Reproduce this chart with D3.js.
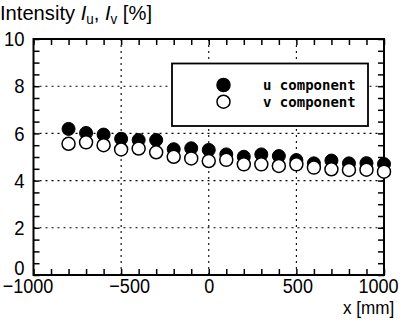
<!DOCTYPE html>
<html>
<head>
<meta charset="utf-8">
<script src="https://cdn.jsdelivr.net/npm/d3@7"></script>
<style>
  body { margin: 0; background: #fff; }
  svg { display: block; }
  .narrow { font-family: "Liberation Sans", Arial, sans-serif; }
</style>
</head>
<body>
<svg id="chart" width="402" height="327"></svg>
<script>
// Streamwise position of each probe [mm]
const positions = [-800, -700, -600, -500, -400, -300, -200, -100, 0, 100, 200, 300, 400, 500, 600, 700, 800, 900, 1000];
// Turbulence intensity of the u component [%]
const uIntensity = [6.19, 6.02, 5.95, 5.77, 5.72, 5.72, 5.33, 5.37, 5.30, 5.11, 5.01, 5.11, 5.04, 4.87, 4.73, 4.85, 4.73, 4.74, 4.70];
// Turbulence intensity of the v component [%]
const vIntensity = [5.56, 5.62, 5.50, 5.32, 5.36, 5.20, 5.01, 4.94, 4.83, 4.88, 4.69, 4.69, 4.62, 4.69, 4.55, 4.48, 4.45, 4.46, 4.38];
// Axis tick labels
const xTickLabels = [-1000, -500, 0, 500, 1000];
const yTickLabels = [0, 2, 4, 6, 8, 10];
const seriesNames = ["u component", "v component"];

const svg = d3.select("#chart");
const plotL = 33.5, plotR = 384, plotT = 39, plotB = 275;

const x = d3.scaleLinear().domain([-1000, 1000]).range([plotL, plotR]);
const y = d3.scaleLinear().domain([0, 10]).range([plotB, plotT]);

// dotted grid at the interior labelled ticks
const grid = svg.append("g").attr("stroke", "#000").attr("stroke-width", 1.1).attr("stroke-dasharray", "2,4");
grid.selectAll("line.gx").data(xTickLabels.filter(v => v > -1000 && v < 1000)).join("line")
  .attr("x1", d => x(d)).attr("x2", d => x(d)).attr("y1", plotT).attr("y2", plotB);
grid.selectAll("line.gy").data(yTickLabels.filter(v => v > 0 && v < 10)).join("line")
  .attr("x1", plotL).attr("x2", plotR).attr("y1", d => y(d)).attr("y2", d => y(d));

const fmt = d => d < 0 ? "\u2212" + Math.abs(d) : String(d);
const xMinor = d3.range(-1000, 1001, 100);
const yMinor = d3.range(0, 10.01, 0.5);

function styleAxis(g) {
  g.select(".domain").remove();
  g.selectAll(".tick line").attr("stroke", "#000").attr("stroke-width", 1.5);
  g.selectAll(".tick text").attr("fill", "#000");
}

// bottom axis with condensed labels
const xLabelShift = { "-1000": -6, "-500": 8, "0": 0, "500": 1, "1000": -6 };
svg.append("g").attr("transform", `translate(0,${plotB})`)
  .call(d3.axisBottom(x).tickValues(xMinor).tickSize(-6).tickPadding(3)
    .tickFormat(d => xTickLabels.includes(d) ? fmt(d) : ""))
  .call(styleAxis)
  .call(g => g.selectAll(".tick text").attr("class", "narrow").attr("font-size", 21)
    .attr("transform", d => `translate(${xLabelShift[d] || 0},0) scale(0.86,1)`));

// top axis, ticks only
svg.append("g").attr("transform", `translate(0,${plotT})`)
  .call(d3.axisTop(x).tickValues(xMinor).tickSize(-6).tickFormat(""))
  .call(styleAxis);

// left axis with condensed labels; the 0 label sits a little higher to clear the x labels
svg.append("g").attr("transform", `translate(${plotL},0)`)
  .call(d3.axisLeft(y).tickValues(yMinor).tickSize(-6).tickPadding(0)
    .tickFormat(d => yTickLabels.includes(d) ? String(d) : ""))
  .call(styleAxis)
  .call(g => g.selectAll(".tick text").attr("class", "narrow").attr("font-size", 21)
    .attr("x", 0)
    .attr("transform", d => `translate(-9,${d === 0 ? -7 : 0}) scale(0.88,1)`));

// right axis, ticks only
svg.append("g").attr("transform", `translate(${plotR},0)`)
  .call(d3.axisRight(y).tickValues(yMinor).tickSize(-6).tickFormat(""))
  .call(styleAxis);

// frame
svg.append("rect").attr("x", plotL).attr("y", plotT).attr("width", plotR - plotL).attr("height", plotB - plotT)
  .attr("fill", "none").attr("stroke", "#000").attr("stroke-width", 2);

// data markers: filled u first, open v drawn over it
const r = 6.5;
svg.append("g").selectAll("circle").data(positions).join("circle")
  .attr("cx", (d) => x(d)).attr("cy", (d, i) => y(uIntensity[i])).attr("r", r)
  .attr("fill", "#000").attr("stroke", "#000").attr("stroke-width", 1);
svg.append("g").selectAll("circle").data(positions).join("circle")
  .attr("cx", (d) => x(d)).attr("cy", (d, i) => y(vIntensity[i])).attr("r", r)
  .attr("fill", "#fff").attr("stroke", "#000").attr("stroke-width", 1.5);

// legend
const lg = svg.append("g");
lg.append("rect").attr("x", 172).attr("y", 63.5).attr("width", 196).attr("height", 62.5)
  .attr("fill", "#fff").attr("stroke", "#000").attr("stroke-width", 1.8);
const legendRows = [
  { name: seriesNames[0], fill: "#000" },
  { name: seriesNames[1], fill: "#fff" }
];
legendRows.forEach((row, i) => {
  const cy = 85 + i * 16.7;
  lg.append("circle").attr("cx", 223.5).attr("cy", cy).attr("r", r)
    .attr("fill", row.fill).attr("stroke", "#000").attr("stroke-width", 1.5);
  lg.append("text").attr("x", 263).attr("y", cy).attr("dy", "0.36em")
    .attr("font-family", "'DejaVu Sans Mono', monospace").attr("font-weight", "bold")
    .attr("font-size", 14).attr("fill", "#000").text(row.name);
});

// axis titles
const yt = svg.append("text").attr("class", "narrow").attr("x", 0).attr("y", 20)
  .attr("font-size", 21).attr("fill", "#000").attr("transform", "scale(0.96,1)");
yt.append("tspan").text("Intensity ");
yt.append("tspan").attr("font-style", "italic").text("I");
yt.append("tspan").attr("font-size", 14).attr("dy", 4).text("u");
yt.append("tspan").attr("dy", -4).text(", ");
yt.append("tspan").attr("font-style", "italic").text("I");
yt.append("tspan").attr("font-size", 14).attr("dy", 4).text("v");
yt.append("tspan").attr("dy", -4).text(" [%]");

svg.append("text").attr("class", "narrow").attr("x", 343).attr("y", 314)
  .attr("font-size", 19).attr("fill", "#000").attr("transform", "translate(343,0) scale(0.9,1) translate(-343,0)")
  .text("x [mm]");
</script>
</body>
</html>
